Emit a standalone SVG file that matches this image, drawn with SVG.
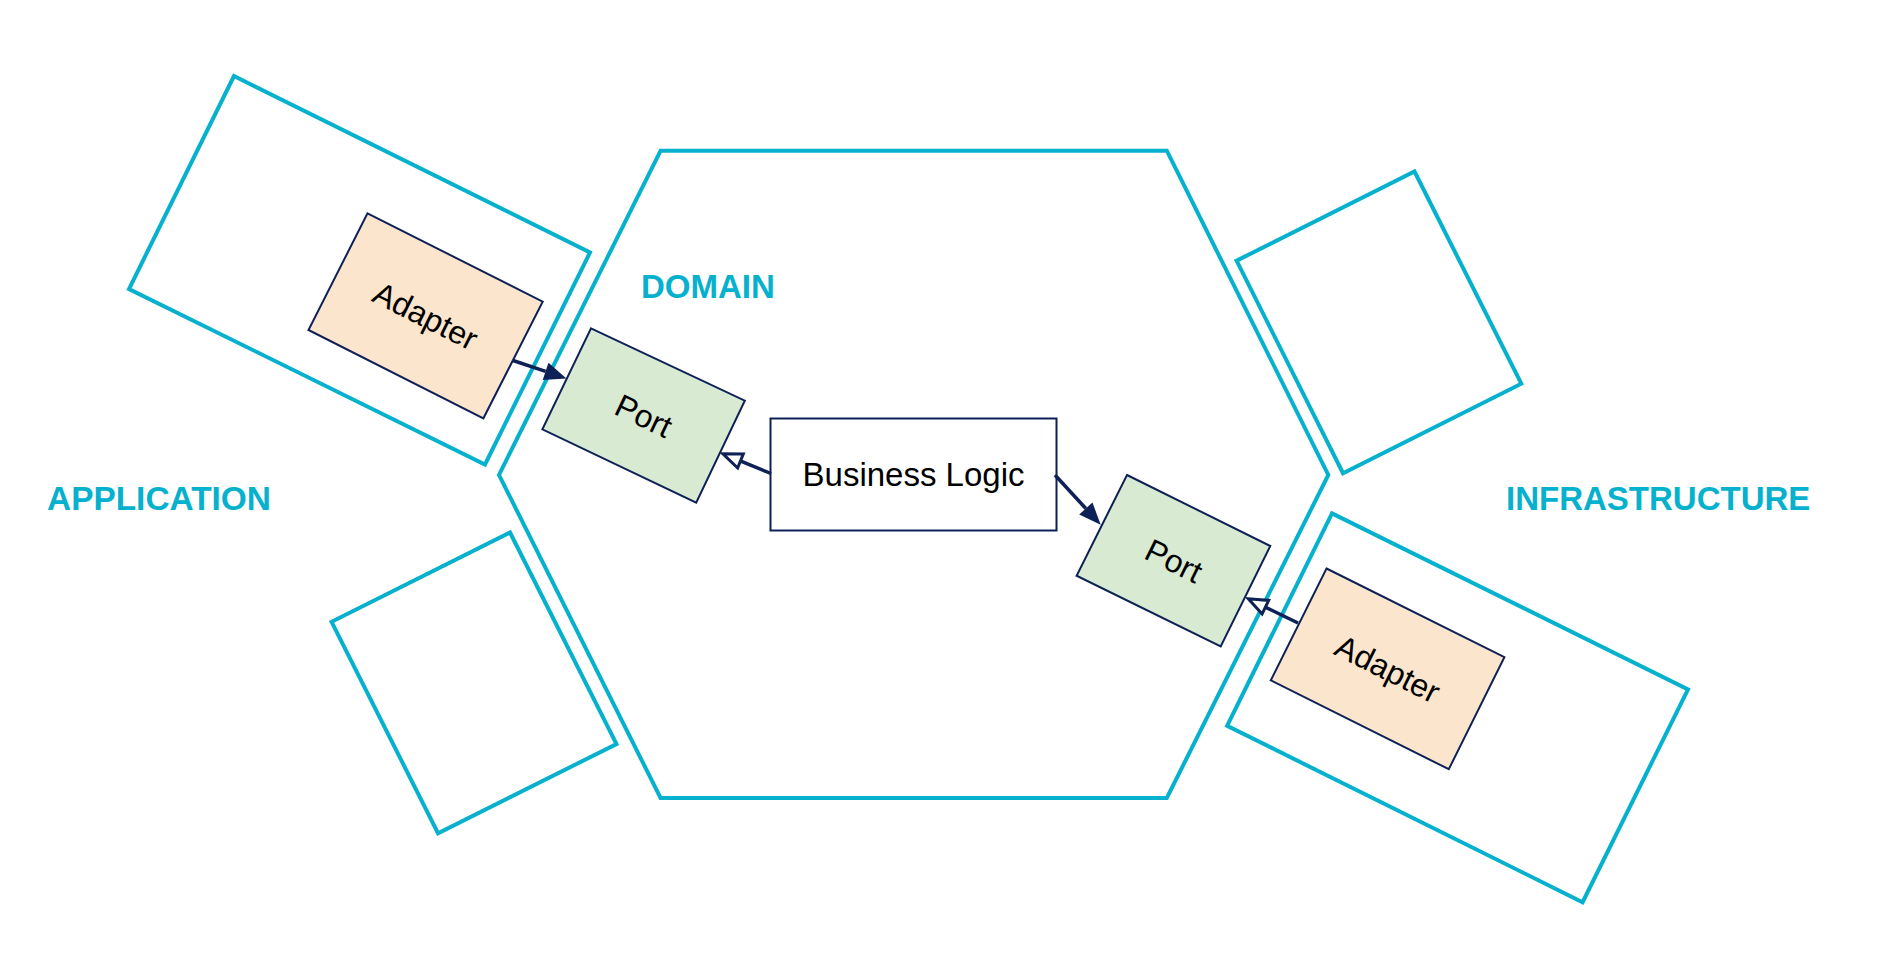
<svg xmlns="http://www.w3.org/2000/svg" width="1890" height="970" viewBox="0 0 1890 970">
  <style>
    .zone { fill: none; stroke: #06B1CE; stroke-width: 4; stroke-linejoin: miter; }
    .adapter { fill: #FCE5CD; stroke: #0E2157; stroke-width: 2; }
    .port { fill: #D9EAD3; stroke: #0E2157; stroke-width: 2; }
    .logic { fill: #FFFFFF; stroke: #0E2157; stroke-width: 2; }
    .label { font-family: "Liberation Sans", Arial, sans-serif; font-weight: bold; font-size: 33px; fill: #06B1CE; }
    .nodetext { font-family: "Liberation Sans", Arial, sans-serif; font-size: 32px; fill: #000000; text-anchor: middle; dominant-baseline: central; }
    .conn { stroke: #0E2157; stroke-width: 3.5; fill: none; }
  </style>
  <defs>
    <marker id="arrowFilled" markerUnits="userSpaceOnUse" markerWidth="22" markerHeight="18" refX="0" refY="9" orient="auto" overflow="visible">
      <path d="M0,0 L22,9 L0,18 z" fill="#0E2157"/>
    </marker>
    <marker id="arrowHollow" markerUnits="userSpaceOnUse" markerWidth="22" markerHeight="18" refX="0" refY="9" orient="auto" overflow="visible">
      <path d="M1,1.5 L20,9 L1,16.5 z" fill="#FFFFFF" stroke="#0E2157" stroke-width="3"/>
    </marker>
  </defs>
  <rect x="0" y="0" width="1890" height="970" fill="#FFFFFF"/>

  <g id="domain-zone">
    <polygon class="zone" points="660.6,150.7 1166.8,150.7 1328.3,474.9 1166.8,798 660.6,798 499,474.9"/>
    <text class="label" x="641" y="298">DOMAIN</text>
  </g>

  <g id="application-zone">
    <polygon class="zone" points="234,76 590,252.5 485,464.5 129,289"/>
    <polygon class="zone" points="510,532.5 616.5,744 438,833.2 331.6,621.8"/>
    <text class="label" x="47" y="510" textLength="224" lengthAdjust="spacingAndGlyphs">APPLICATION</text>
  </g>

  <g id="infrastructure-zone">
    <polygon class="zone" points="1414.5,171.5 1521.3,383.7 1343,473.2 1236.6,260.7"/>
    <polygon class="zone" points="1332,513.4 1688,689.4 1582.6,902.2 1227.1,725.8"/>
    <text class="label" x="1506" y="510">INFRASTRUCTURE</text>
  </g>

  <g id="adapter-left">
    <polygon class="adapter" points="367.5,213.3 542.7,301.7 483.4,418.3 308.5,330"/>
    <text class="nodetext" transform="translate(425.5,316) rotate(26.8)">Adapter</text>
  </g>

  <g id="port-left">
    <polygon class="port" points="591,328.3 744.8,400.7 696.2,502.7 542.4,429.3"/>
    <text class="nodetext" transform="translate(643.6,416) rotate(25.5)">Port</text>
  </g>

  <g id="business-logic">
    <rect class="logic" x="770.5" y="418.5" width="286" height="112"/>
    <text class="nodetext" x="913.5" y="474.5" style="font-size:33px">Business Logic</text>
  </g>

  <g id="port-right">
    <polygon class="port" points="1127,475 1270.3,546 1220.7,646.5 1076.6,575.7"/>
    <text class="nodetext" transform="translate(1173.7,561) rotate(26.4)">Port</text>
  </g>

  <g id="adapter-right">
    <polygon class="adapter" points="1326.5,568.5 1504.4,657.2 1448.8,769.2 1270.8,680.4"/>
    <text class="nodetext" transform="translate(1387.6,669) rotate(26.6)">Adapter</text>
  </g>

  <g id="connectors">
    <line class="conn" x1="513" y1="360.5" x2="545.6" y2="371.4" marker-end="url(#arrowFilled)"/>
    <line class="conn" x1="771" y1="473.5" x2="741.4" y2="461.4" marker-end="url(#arrowHollow)"/>
    <line class="conn" x1="1055" y1="475" x2="1085.8" y2="508.5" marker-end="url(#arrowFilled)"/>
    <line class="conn" x1="1298" y1="623" x2="1266.3" y2="607.6" marker-end="url(#arrowHollow)"/>
  </g>
</svg>
